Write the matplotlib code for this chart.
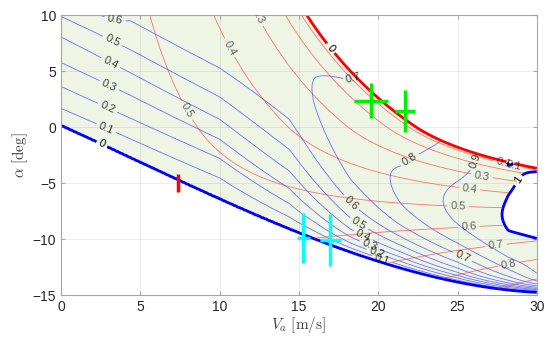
import numpy as np
import matplotlib.pyplot as plt

plt.rcParams['font.family'] = ['Liberation Sans', 'DejaVu Sans']
plt.rcParams['mathtext.fontset'] = 'cm'

# thick blue zero line (speed m/s, angle deg)
zero_v = [0, 5.0, 8.8, 11.9, 15.1, 19.3, 24.3, 30.0]
zero_a = [0, -2.95, -5.45, -7.85, -9.8, -11.6, -13.4, -14.85]

# blue field: points read on its contour lines (speed, angle, level)
station_v = [0, 4.35, 10, 14.4, 16, 18.3, 21.4, 25, 28.2, 30]
station_lam = [3, 3, 3, 2.5, 2.5, 1.5, 1.0, 0.8, 0.7, 0.7]
blue_v = [0]*5 + [4.35]*6 + [10]*7 + [14.4]*8 + [16]*10 + [18.3]*9 + [21.4]*9 + [25]*9 + [28.2]*9 + [30]*8
blue_a = [1.55, 3.7, 5.8, 7.95, 9.9,
          -1.1, 0.85, 2.9, 4.8, 6.95, 9.5,
          -4.6, -2.8, -1.0, 0.75, 2.5, 5.4, 10.0,
          -8.0, -6.8, -5.5, -4.0, -2.0, 0.8, 6.0, 10.0,
          -9.4, -8.5, -7.5, -6.4, -4.9, -2.4, 0.0, 2.5, 4.8, 8.5,
          -10.8, -10.4, -9.9, -9.0, -8.2, -6.7, -5.0, -0.5, 4.2,
          -12.1, -11.6, -10.7, -10.0, -8.5, -6.0, -4.2, -2.5, 0.8,
          -13.1, -12.6, -11.7, -10.6, -8.5, -6.4, -5.0, -3.4, -1.3,
          -13.8, -13.4, -12.9, -11.7, -10.0, -8.0, -6.0, -4.5, -3.5,
          -14.3, -13.7, -13.1, -12.0, -11.0, -9.8, -7.0, -4.0]
blue_lvl = [.1, .2, .3, .4, .5,
            .1, .2, .3, .4, .5, .6,
            .1, .2, .3, .4, .5, .6, .66,
            .1, .2, .3, .4, .5, .6, .68, .65,
            .1, .2, .3, .4, .5, .6, .69, .705, .69, .64,
            .1, .2, .3, .4, .5, .6, .7, .765, .7,
            .1, .3, .5, .6, .7, .8, .805, .8, .75,
            .3, .5, .7, .8, .87, .9, .91, .9, .8,
            .5, .7, .8, .9, .965, 1.0, 1.012, 1.0, .99,
            .5, .8, .9, .95, .975, 1.0, 1.03, 1.0]

# red field: hover level and the lift / drag terms fitted to the red lines
red_hover = 0.59
red_a0 = 15.0
red_b1, red_b2 = 1.693e-3, 5.74e-5
red_c, red_q = 1.95e-5, 1.7

# markers: centre and half widths of the crosses
green_v = [19.55, 21.69]
green_a = [2.35, 1.43]
green_dv = [1.07, 0.63]
green_da = [1.56, 1.86]
cyan_v = [15.28, 16.99]
cyan_a = [-9.9, -10.09]
cyan_dv = [0.43, 0.65]
cyan_da = [2.2, 2.3]
red_mark_v = [7.35]
red_mark_a = [-4.95]
red_mark_da = [0.8]

p0 = np.polyfit(zero_v, zero_a, 3)


def alpha0(v):
    return np.polyval(p0, v)


def basis(d, lam):
    return np.stack([np.tanh(d / lam), d, d**2, d**3], axis=-1)


bv, ba, bl = np.array(blue_v), np.array(blue_a), np.array(blue_lvl)
coefs = []
for sv, lam in zip(station_v, station_lam):
    sel = bv == sv
    d = ba[sel] - alpha0(sv)
    c, *_ = np.linalg.lstsq(basis(d, lam), bl[sel], rcond=None)
    coefs.append(c)

V, A = np.meshgrid(np.linspace(0, 30, 361), np.linspace(-15, 10, 301))
D = A - alpha0(V)
B = np.zeros_like(V)
eye = np.eye(len(station_v))
for k, lam in enumerate(station_lam):
    w = np.interp(V, station_v, eye[k])
    B += w * (basis(D, lam) @ coefs[k])
B = np.where(D < 0, D, B)

T = (1 - (A + red_a0) * (red_b1 * V + red_b2 * V**2)
     + red_c * V**2 * np.maximum(-A, 0)**red_q)
R = red_hover * np.sqrt(np.maximum(T, 0))

ok = (B >= 0) & (B <= 1) & (T >= 0)

fig = plt.figure(figsize=(5.5, 3.42), dpi=100)
ax = fig.add_axes([0.111, 0.137, 0.865, 0.819])

ax.contourf(V, A, ok.astype(float), levels=[0.5, 1.5], colors=['#eef5e5'], zorder=0.2)

lv = np.round(np.arange(0.1, 0.95, 0.1), 1)
cb = ax.contour(V, A, np.ma.masked_where(~ok, B), levels=lv, colors='#4444ff',
                linewidths=0.6, alpha=0.75)
cbt = ax.contour(V, A, np.ma.masked_where(T < 0, B), levels=[0, 1], colors='#0000ff',
                 linewidths=2)
cr = ax.contour(V, A, np.ma.masked_where(~ok, R), levels=lv, colors='#ff2020',
                linewidths=0.6, alpha=0.6)
crt = ax.contour(V, A, np.ma.masked_where((B < 0) | (B > 1), T), levels=[0],
                 colors='#ff0000', linewidths=2)

lab = dict(inline=True, fontsize=8, fmt='%g', colors='black', inline_spacing=3)
ax.clabel(cb, manual=[(3.4, 9.6), (3.2, 7.6), (3.1, 5.7), (3.0, 3.66), (2.9, 1.67),
                      (2.8, -0.27), (18.34, -6.67), (18.86, -8.45), (19.17, -9.35),
                      (19.45, -10.6), (19.9, -11.2), (20.3, -11.6), (25.3, -11.6),
                      (21.5, -1.76), (26.0, -2.95), (19.5, 3.0)], **lab)
ax.clabel(cbt, manual=[(2.58, -1.46), (28.5, -4.44)], **lab)
ax.clabel(cr, manual=[(12.2, 9.7), (10.75, 7.17), (8.55, 1.96), (28.6, -3.24),
                      (27.9, -3.39), (26.6, -3.99), (25.8, -5.18), (25.05, -6.67),
                      (25.7, -8.6), (27.4, -10.24), (28.2, -12.1)], **lab)
ax.clabel(crt, manual=[(16.97, 7.0)], **lab)

ax.errorbar(green_v, green_a, xerr=green_dv, yerr=green_da, fmt='none',
            ecolor='#00ee00', elinewidth=2.5, capsize=0, zorder=5)
ax.errorbar(cyan_v, cyan_a, xerr=cyan_dv, yerr=cyan_da, fmt='none',
            ecolor='#00ffff', elinewidth=2.5, capsize=0, zorder=5)
ax.errorbar(red_mark_v, red_mark_a, yerr=red_mark_da, fmt='none',
            ecolor='#ff0000', elinewidth=2.5, capsize=0, zorder=5)

ax.set_xlim(0, 30)
ax.set_ylim(-15, 10)
ax.set_xticks(range(0, 31, 5))
ax.set_yticks(range(-15, 11, 5))
ax.grid(True, color='#262626', alpha=0.1, linewidth=0.6)
ax.set_axisbelow(True)
for s in ax.spines.values():
    s.set_color('#a6a6a6')
    s.set_linewidth(0.8)
ax.tick_params(direction='in', length=3, color='#a6a6a6', labelcolor='#262626',
               labelsize=10, top=True, right=True)
ax.set_xlabel(r'$V_a\ \mathrm{[m/s]}$', fontsize=11, color='#404040', labelpad=1)
ax.set_ylabel(r'$\alpha\ \mathrm{[deg]}$', fontsize=11, color='#404040', labelpad=2)

fig.savefig('out.png', dpi=100)
